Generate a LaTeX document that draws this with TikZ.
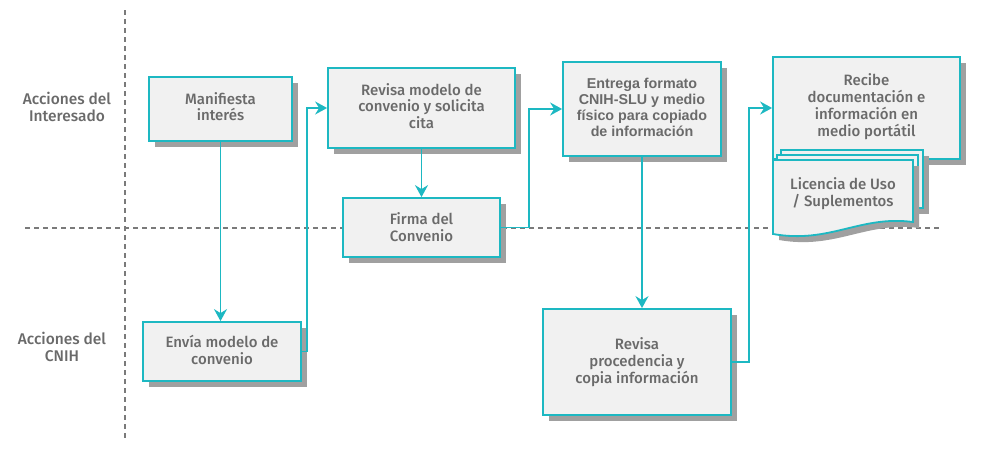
\documentclass[tikz,border=0pt]{standalone}
\usepackage{fontspec}
\setmainfont{Fira Sans}
\newfontfamily\boxfont{Fira Sans}[UprightFont=* Medium]
\newfontfamily\arialfont{Liberation Sans}
\usetikzlibrary{shadows,arrows.meta,calc}
\definecolor{tl}{HTML}{1DB8C2}
\definecolor{boxfill}{HTML}{F1F1F1}
\definecolor{txt}{HTML}{6A6A6A}
\definecolor{shad}{HTML}{A0A0A0}
\definecolor{lanecol}{HTML}{7A7A7A}
\begin{document}
\begin{tikzpicture}[x=1pt,y=-1pt,
  box/.style={draw=tl, line width=1.8pt, fill=boxfill, text=txt, align=center,
    font=\boxfont\fontsize{15}{16.8}\selectfont, inner sep=0pt,
    drop shadow={shadow xshift=6pt, shadow yshift=-6pt, fill=shad, opacity=1}},
  conn/.style={draw=tl, line width=1.8pt},
  arr/.style={conn, -{Stealth[length=12pt,width=13pt,inset=4pt]}},
  lane/.style={draw=lanecol, line width=1.2pt, dash pattern=on 5pt off 4pt},
  lbl/.style={text=txt, align=center, font=\boxfont\fontsize{15.5}{17}\selectfont}]
\useasboundingbox (0,0) rectangle (991,455);
% swimlane separators
\draw[lane] (125,10) -- (125,440);
\draw[lane] (25,228) -- (940,228);
% lane labels
\node[lbl] (l1) at (67,107) {Acciones del\\Interesado};
\node[lbl] (l2) at (62,347) {Acciones del\\CNIH};
% boxes
\node[box, minimum width=143pt, minimum height=64pt, text depth=5pt] (b1) at (220.5,109) {Manifiesta\\inter\'es};
\node[box, minimum width=187pt, minimum height=80pt, text depth=4pt] (b2) at (421.5,108) {Revisa modelo de\\convenio y solicita\\cita};
\node[box, minimum width=157pt, minimum height=59pt] (b3) at (421.5,227.5) {Firma del\\Convenio};
\node[box, minimum width=158pt, minimum height=59pt, text depth=4pt] (b4) at (222,351.5) {Env\'ia modelo de\\convenio};
\node[box, minimum width=158pt, minimum height=94pt, text depth=4pt, font=\arialfont\bfseries\fontsize{14.3}{16}\selectfont] (b5) at (642,109) {Entrega formato\\CNIH-SLU y medio\\f\'isico para copiado\\de informaci\'on};
\node[box, minimum width=188pt, minimum height=106pt] (b6) at (637,362) {Revisa\\procedencia y\\copia informaci\'on};
\node[box, minimum width=187pt, minimum height=102pt, text depth=6pt] (b7) at (866.5,108) {Recibe\\documentaci\'on e\\informaci\'on en\\medio port\'atil};
% document stack
\begin{scope}[line width=1.8pt]
  \fill[shad] (787,156) rectangle (929,214);
  \filldraw[draw=tl, fill=boxfill] (781,150) rectangle (923,208);
  \filldraw[draw=tl, fill=boxfill] (777,155) rectangle (918,213);
  \fill[shad] (779,166) -- (919,166) -- (919,228) .. controls (866,221) and (836,250) .. (779,240) -- cycle;
  \filldraw[draw=tl, fill=boxfill] (773,160) -- (913,160) -- (913,222) .. controls (860,215) and (830,244) .. (773,234) -- cycle;
\end{scope}
\node[text=txt, align=center, font=\boxfont\fontsize{15}{16.8}\selectfont] (doc) at (843,194) {Licencia de Uso\\/ Suplementos};
% connectors
\draw[arr] (b1.south) -- (b1.south |- b4.north);
\draw[arr] (b4.east) -- ++(5,0) |- (b2.west);
\draw[arr] (b2.south) -- (b2.south |- b3.north);
\draw[arr] (b3.east) -- ++(28,0) |- (b5.west);
\draw[arr] (b5.south) -- (b5.south |- b6.north);
\draw[arr] (b6.east) -- ++(17,0) |- (b7.west);
\end{tikzpicture}
\end{document}
